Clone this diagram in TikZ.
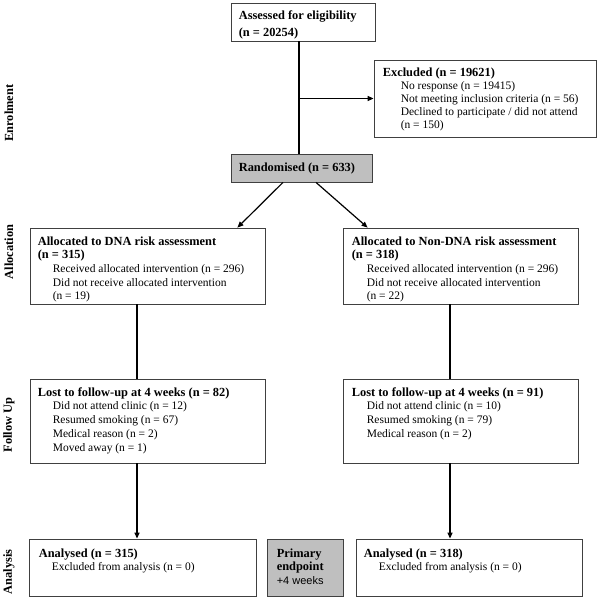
\documentclass[tikz,border=0pt]{standalone}
\usepackage{fontspec}
\setmainfont{Liberation Serif}
\newfontfamily\arialfont{Liberation Sans}
\usetikzlibrary{arrows.meta}
\newcommand{\hd}[1]{{\fontsize{12.4}{13.7}\selectfont\bfseries #1}}
\newcommand{\ind}{\hspace*{15pt}}

\begin{document}
\begin{tikzpicture}[x=1pt, y=-1pt, >={Triangle[length=6pt,width=5pt]},
    box node/.style={rectangle, draw=black!75, line width=0.8pt, inner sep=0pt},
    grey node/.style={box node, fill=black!25},
    text node/.style={anchor=north west, inner sep=0pt, align=left, font=\fontsize{11.5}{13.7}\selectfont},
    side node/.style={rotate=90, inner sep=0pt, font=\fontsize{12.4}{14}\selectfont\bfseries},
    link/.style={line width=1.2pt}]
\useasboundingbox (0,0) rectangle (598,599);

\node[box node, minimum width=144pt, minimum height=38pt] (assess) at (303,22) {};
\node[box node, minimum width=222pt, minimum height=77pt] (excl) at (485,98.5) {};
\node[grey node, minimum width=141pt, minimum height=28pt] (rand) at (301.5,168) {};
\node[box node, minimum width=235pt, minimum height=76pt] (dna) at (147.5,266) {};
\node[box node, minimum width=235pt, minimum height=76pt] (nondna) at (460.5,266) {};
\node[box node, minimum width=235pt, minimum height=84pt] (lostA) at (147.5,421) {};
\node[box node, minimum width=235pt, minimum height=84pt] (lostB) at (460.5,421) {};
\node[box node, minimum width=227pt, minimum height=57pt] (anA) at (142.5,567.5) {};
\node[grey node, minimum width=76pt, minimum height=57pt] (prim) at (305,567.5) {};
\node[box node, minimum width=226pt, minimum height=57pt] (anB) at (469,567.5) {};

\node[text node, font=\fontsize{11.5}{17}\selectfont] (assess-t) at ([xshift=8pt,yshift=-7.7pt]assess.north west)
    {\hd{Assessed for eligibility}\\\hd{(n = 20254)}};
\node[text node, font=\fontsize{11.5}{13}\selectfont] (excl-t) at ([xshift=9pt,yshift=-7.7pt]excl.north west)
    {\hd{Excluded (n = 19621)}\\\hspace*{18pt}No response (n = 19415)\\\hspace*{18pt}Not meeting inclusion criteria (n = 56)\\\hspace*{18pt}Declined to participate / did not attend\\\hspace*{18pt}(n = 150)};
\node[text node] (rand-t) at ([xshift=8pt,yshift=-8.7pt]rand.north west) {\hd{Randomised (n = 633)}};
\node[text node] (dna-t) at ([xshift=8pt,yshift=-8.7pt]dna.north west)
    {\hd{Allocated to DNA risk assessment}\\\hd{(n = 315)}\\\ind Received allocated intervention (n = 296)\\\ind Did not receive allocated intervention\\\ind (n = 19)};
\node[text node] (nondna-t) at ([xshift=9pt,yshift=-8.7pt]nondna.north west)
    {\hd{Allocated to Non-DNA risk assessment}\\\hd{(n = 318)}\\\ind Received allocated intervention (n = 296)\\\ind Did not receive allocated intervention\\\ind (n = 22)};
\node[text node] (lostA-t) at ([xshift=8pt,yshift=-8.7pt]lostA.north west)
    {\hd{Lost to follow-up at 4 weeks (n = 82)}\\\ind Did not attend clinic (n = 12)\\\ind Resumed smoking (n = 67)\\\ind Medical reason (n = 2)\\\ind Moved away (n = 1)};
\node[text node] (lostB-t) at ([xshift=9pt,yshift=-8.7pt]lostB.north west)
    {\hd{Lost to follow-up at 4 weeks (n = 91)}\\\ind Did not attend clinic (n = 10)\\\ind Resumed smoking (n = 79)\\\ind Medical reason (n = 2)};
\node[text node] (anA-t) at ([xshift=10pt,yshift=-9.7pt]anA.north west)
    {\hd{Analysed (n = 315)}\\\hspace*{13pt}Excluded from analysis (n = 0)};
\node[text node] (prim-t) at ([xshift=10pt,yshift=-9.7pt]prim.north west)
    {\hd{Primary}\\\hd{endpoint}\\{\arialfont\fontsize{11}{13.7}\selectfont +4 weeks}};
\node[text node] (anB-t) at ([xshift=8pt,yshift=-9.7pt]anB.north west)
    {\hd{Analysed (n = 318)}\\\ind Excluded from analysis (n = 0)};

\node[side node] (enrol) at (9,113) {Enrolment};
\node[side node] (alloc) at (9,252) {Allocation};
\node[side node] (follow) at (9,425) {Follow Up};
\node[side node] (analysis) at (9,572) {Analysis};

\path ([xshift=-4pt]assess.south) coordinate (trunk);
\draw[link] (trunk) -- (trunk |- rand.north);
\draw[link, ->] (trunk |- excl.west) -- (excl.west);
\draw[link, ->] ([xshift=-18.5pt]rand.south) -- ([xshift=-28pt]dna.north east);
\draw[link, ->] ([xshift=14.5pt]rand.south) -- ([xshift=25pt]nondna.north west);
\draw[link] ([xshift=-10.5pt]dna.south) -- ([xshift=-10.5pt]lostA.north);
\draw[link, ->] ([xshift=-10.5pt]lostA.south) -- ([xshift=-5.5pt]anA.north);
\draw[link] ([xshift=-10.5pt]nondna.south) -- ([xshift=-10.5pt]lostB.north);
\draw[link, ->] ([xshift=-10.5pt]lostB.south) -- ([xshift=-19pt]anB.north);

\end{tikzpicture}
\end{document}
